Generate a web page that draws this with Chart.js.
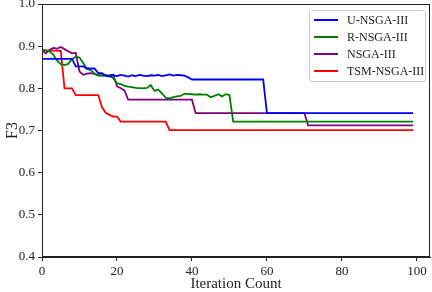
<!DOCTYPE html>
<html>
<head>
<meta charset="utf-8">
<script src="https://cdn.jsdelivr.net/npm/chart.js@4.4.1/dist/chart.umd.min.js"></script>
<style>
  body { margin: 0; background: #fff; }
  #wrap { width: 432px; height: 292px; }
</style>
</head>
<body>
<div id="wrap"><canvas id="chart"></canvas></div>
<script>
// values (iteration, F3) at the points where the curves change
const seriesNames = ['U-NSGA-III', 'R-NSGA-III', 'NSGA-III', 'TSM-NSGA-III'];

const blueX = [0,8,9,11,12,14,15,16,17,18,19,20,21,22,23,24,25,26,27,28,29,30,31,32,33,34,35,36,37,38,39,40,59,60,99];
const blueY = [0.870,0.870,0.852,0.852,0.847,0.847,0.836,0.836,0.830,0.828,0.831,0.829,0.832,0.830,0.828,0.831,0.829,0.832,0.830,0.829,0.831,0.830,0.832,0.829,0.831,0.833,0.830,0.832,0.831,0.830,0.826,0.821,0.821,0.741,0.741];

const greenX = [0,1,2,3,4,5,6,7,8,9,10,11,12,13,14,15,18,19,20,21,22,23,24,25,27,28,29,30,31,32,33,34,35,36,37,38,39,40,41,42,43,44,45,46,47,48,49,50,51,99];
const greenY = [0.890,0.890,0.888,0.880,0.866,0.857,0.855,0.858,0.869,0.875,0.873,0.860,0.846,0.843,0.835,0.831,0.830,0.824,0.812,0.810,0.806,0.804,0.803,0.801,0.800,0.801,0.808,0.794,0.797,0.788,0.778,0.776,0.779,0.781,0.782,0.787,0.787,0.786,0.785,0.786,0.785,0.785,0.779,0.782,0.786,0.781,0.786,0.784,0.721,0.721];

const purpleX = [0,1,2,3,4,5,6,7,8,9,10,11,12,13,14,15,16,18,19,20,21,22,23,40,41,70,71,99];
const purpleY = [0.891,0.883,0.891,0.896,0.894,0.898,0.893,0.888,0.883,0.884,0.840,0.832,0.835,0.836,0.834,0.831,0.830,0.831,0.832,0.805,0.800,0.795,0.773,0.773,0.741,0.741,0.712,0.712];

const redX = [0,5,6,8,9,15,16,17,18,19,20,21,33,34,99];
const redY = [0.890,0.889,0.800,0.800,0.784,0.784,0.755,0.742,0.737,0.733,0.733,0.721,0.721,0.701,0.701];

const xTicks = [0, 20, 40, 60, 80, 100];
const yTicks = [0.4, 0.5, 0.6, 0.7, 0.8, 0.9, 1.0];

const colors = ['#0000ff', '#008000', '#800080', '#ff0000'];
const serif = "'Liberation Serif', 'DejaVu Serif', serif";

function pts(xs, ys) {
  return xs.map((x, i) => ({ x: x, y: ys[i] }));
}

const allX = [blueX, greenX, purpleX, redX];
const allY = [blueY, greenY, purpleY, redY];

// box round the plot area (matplotlib style spines)
const framePlugin = {
  id: 'frame',
  afterDatasetsDraw(chart) {
    const a = chart.chartArea;
    const ctx = chart.ctx;
    ctx.save();
    ctx.strokeStyle = '#222';
    ctx.lineWidth = 1;
    ctx.strokeRect(Math.round(a.left) + 0.5, Math.round(a.top) + 0.5,
      Math.round(a.right - a.left) - 1, Math.round(a.bottom - a.top) - 1);
    ctx.restore();
  }
};

// legend drawn inside the plot, upper right
const boxLegend = {
  id: 'boxLegend',
  afterDraw(chart) {
    const ctx = chart.ctx;
    const a = chart.chartArea;
    const w = 116, h = 71;
    const x0 = a.right - 121, y0 = a.top + 6;
    ctx.save();
    ctx.fillStyle = 'rgba(255,255,255,0.85)';
    ctx.strokeStyle = '#cccccc';
    ctx.lineWidth = 1;
    ctx.beginPath();
    ctx.roundRect(x0 + 0.5, y0 + 0.5, w, h, 2);
    ctx.fill();
    ctx.stroke();
    ctx.font = '12px ' + serif;
    ctx.textBaseline = 'middle';
    chart.data.datasets.forEach((ds, i) => {
      const yy = y0 + 10 + i * 17;
      ctx.strokeStyle = ds.borderColor;
      ctx.lineWidth = 2;
      ctx.beginPath();
      ctx.moveTo(x0 + 5, yy);
      ctx.lineTo(x0 + 29, yy);
      ctx.stroke();
      ctx.fillStyle = '#222';
      ctx.fillText(ds.label, x0 + 38, yy + 1);
    });
    ctx.restore();
  }
};

new Chart(document.getElementById('chart'), {
  type: 'line',
  data: {
    datasets: seriesNames.map((name, i) => ({
      label: name,
      data: pts(allX[i], allY[i]),
      borderColor: colors[i],
      backgroundColor: colors[i],
      borderWidth: 1.8,
      pointRadius: 0,
      tension: 0,
      fill: false
    }))
  },
  options: {
    responsive: true,
    maintainAspectRatio: false,
    animation: false,
    layout: { padding: { top: 0, right: 2, left: 0, bottom: 0 } },
    plugins: {
      legend: { display: false },
      tooltip: { enabled: false }
    },
    scales: {
      x: {
        type: 'linear',
        min: 0,
        max: 103.5,
        afterBuildTicks: s => { s.ticks = xTicks.map(v => ({ value: v })); },
        afterFit: s => { s.height = 35; },
        grid: { display: true, drawOnChartArea: false, tickLength: 4, color: '#222' },
        border: { display: true, color: '#222' },
        ticks: { font: { family: serif, size: 13 }, color: '#222', padding: 3, maxRotation: 0 },
        title: { display: true, text: 'Iteration Count', font: { family: serif, size: 15 }, color: '#222', padding: { top: 0, bottom: -1 } }
      },
      y: {
        min: 0.4,
        max: 1.0,
        afterBuildTicks: s => { s.ticks = yTicks.map(v => ({ value: v })); },
        afterFit: s => { s.width = 42; s.paddingTop = 4; s.paddingBottom = 0; },
        grid: { display: true, drawOnChartArea: false, tickLength: 4, color: '#222' },
        border: { display: true, color: '#222' },
        ticks: { font: { family: serif, size: 13 }, color: '#222', padding: 3, callback: v => v.toFixed(1) },
        title: { display: true, text: 'F3', font: { family: serif, size: 16 }, color: '#222', padding: { top: 3, bottom: 2 } }
      }
    }
  },
  plugins: [framePlugin, boxLegend]
});
</script>
</body>
</html>
